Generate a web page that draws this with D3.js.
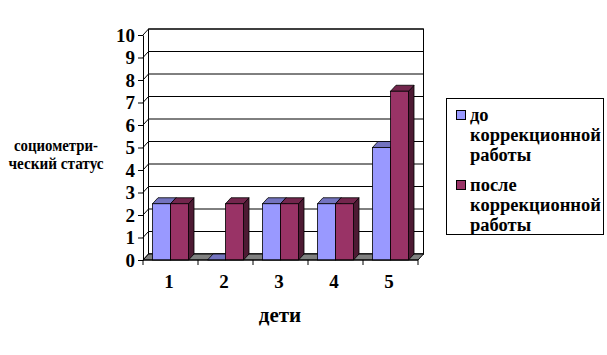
<!DOCTYPE html>
<html><head><meta charset="utf-8">
<script src="https://cdn.jsdelivr.net/npm/d3@7"></script>
<style>
html,body{margin:0;padding:0;background:#fff;}
svg text{font-family:'Liberation Serif','DejaVu Serif','Times New Roman',serif;font-weight:bold;fill:#000;}
</style></head>
<body><svg id="c" width="607" height="355"></svg>
<script>
const categories = ["1","2","3","4","5"];
const seriesNames = ["до коррекционной работы","после коррекционной работы"];
const before = [2.5, 0, 2.5, 2.5, 5];
const after = [2.5, 2.5, 2.5, 2.5, 7.5];
const yTicks = [0,1,2,3,4,5,6,7,8,9,10];
const legendLines = [["до","коррекционной","работы"],["после","коррекционной","работы"]];
const yTitle = ["социометри-","ческий статус"];
const xTitle = "дети";

const FONT = "'Liberation Serif','DejaVu Serif','Times New Roman',serif";
const colors = [
  {front:"#9999FF", top:"#7373BF", side:"#4D4D80"},
  {front:"#993366", top:"#73264D", side:"#4D1A33"}
];
const DX = 5.5, DY = -6;
const svg = d3.select("#c");
const x = d3.scaleBand().domain(categories).range([143,418]).paddingInner(0.345).paddingOuter(0.1725);
const xs = d3.scaleBand().domain([0,1]).range([0, x.bandwidth()]);
const y = d3.scaleLinear().domain([0,10]).range([260,35]);
const x0 = 143, x1 = 418;

function txt(sel, size){
  return sel.attr("font-family",FONT).attr("font-weight","bold").attr("font-size",size).attr("fill","#000")
    .style("font-family",FONT).style("font-size",size+"px");
}

svg.append("rect").attr("x",x0+DX).attr("y",y(10)+DY).attr("width",x1-x0).attr("height",y(0)-y(10))
  .attr("fill","#fff").attr("stroke","#000").attr("stroke-width",1);
yTicks.forEach(v=>{
  svg.append("line").attr("x1",x0+DX).attr("x2",x1+DX).attr("y1",y(v)+DY).attr("y2",y(v)+DY).attr("stroke","#000");
  svg.append("line").attr("x1",x0).attr("x2",x0+DX).attr("y1",y(v)).attr("y2",y(v)+DY).attr("stroke","#000");
});
svg.append("line").attr("x1",x0+DX).attr("x2",x0+DX).attr("y1",y(0)+DY).attr("y2",y(10)+DY).attr("stroke","#000");
svg.append("path").attr("d",`M${x0},${y(0)}L${x1},${y(0)}L${x1+DX},${y(0)+DY}L${x0+DX},${y(0)+DY}Z`)
  .attr("fill","#808080").attr("stroke","#000").attr("stroke-width",1);

const data = [before, after];
categories.forEach((c,i)=>{
  [0,1].forEach(s=>{
    const v = data[s][i];
    const bx = x(c)+xs(s), bw = xs.bandwidth();
    const yt = y(v), yb = y(0);
    const col = colors[s];
    const g = svg.append("g");
    if (v>0){
      g.append("path").attr("d",`M${bx+bw},${yb}L${bx+bw+DX},${yb+DY}L${bx+bw+DX},${yt+DY}L${bx+bw},${yt}Z`)
        .attr("fill",col.side).attr("stroke","#000").attr("stroke-width",0.8);
    }
    g.append("path").attr("d",`M${bx},${yt}L${bx+bw},${yt}L${bx+bw+DX},${yt+DY}L${bx+DX},${yt+DY}Z`)
      .attr("fill",col.top).attr("stroke","#000").attr("stroke-width",0.8);
    if (v>0){
      g.append("rect").attr("x",bx).attr("y",yt).attr("width",bw).attr("height",yb-yt)
        .attr("fill",col.front).attr("stroke","#000").attr("stroke-width",0.8);
    }
  });
});

const ax = svg.append("g").attr("transform",`translate(${x0},0)`)
  .call(d3.axisLeft(y).tickValues(yTicks).tickSize(5).tickSizeOuter(0).tickPadding(3));
ax.attr("font-family",null).attr("font-size",null);
ax.select(".domain").attr("stroke","#000");
ax.selectAll(".tick line").attr("stroke","#000");
txt(ax.selectAll(".tick text"), 19);

const step = x.step();
d3.range(categories.length+1).forEach(k=>{
  const px = x0 + k*step;
  svg.append("line").attr("x1",px).attr("x2",px).attr("y1",y(0)).attr("y2",y(0)+5).attr("stroke","#000");
});
svg.append("line").attr("x1",x0).attr("x2",x1).attr("y1",y(0)).attr("y2",y(0)).attr("stroke","#000");
txt(svg.selectAll(".xl").data(categories).enter().append("text")
  .attr("x",d=>x(d)+x.bandwidth()/2-1.5).attr("y",288).attr("text-anchor","middle"), 19).text(d=>d);

txt(svg.append("text").attr("x",280).attr("y",322).attr("text-anchor","middle"), 21).text(xTitle);
const yTitleW = [84, 95];
yTitle.forEach((t,i)=>{
  txt(svg.append("text").attr("x",56).attr("y",151+i*18).attr("text-anchor","middle")
    .attr("textLength",yTitleW[i]).attr("lengthAdjust","spacingAndGlyphs"), 16).text(t);
});

svg.append("rect").attr("x",446.5).attr("y",98.5).attr("width",157).attr("height",136).attr("fill","#fff").attr("stroke","#000");
const legBase = [121,191];
legendLines.forEach((lines,s)=>{
  svg.append("rect").attr("x",456.5).attr("y",legBase[s]-10.5).attr("width",9).attr("height",9)
    .attr("fill",colors[s].front).attr("stroke","#000");
  lines.forEach((t,j)=>{
    txt(svg.append("text").attr("x",470).attr("y",legBase[s]+j*20), 18.5).text(t);
  });
});
</script></body></html>
